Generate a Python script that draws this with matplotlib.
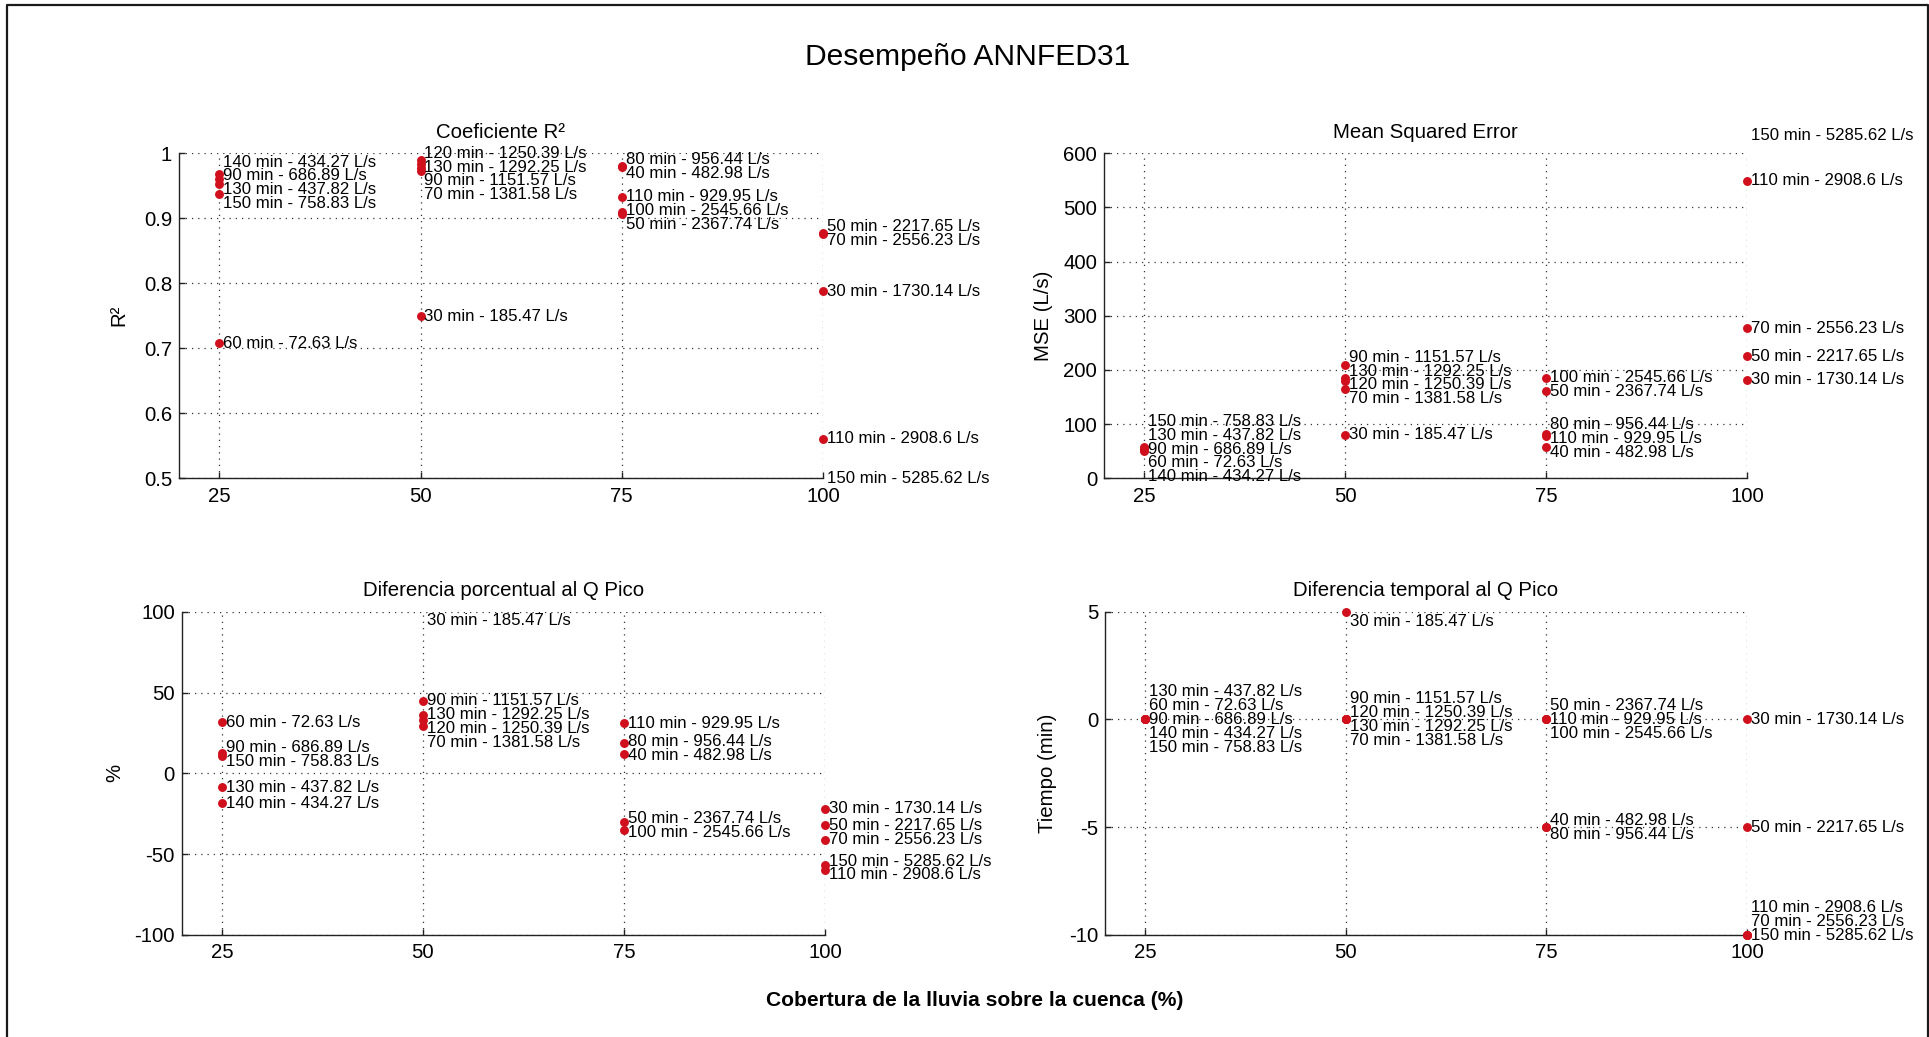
import matplotlib
matplotlib.use("Agg")
import matplotlib.pyplot as plt
from matplotlib.lines import Line2D

plt.rcParams['font.family'] = ['Liberation Sans', 'DejaVu Sans']
plt.rcParams['axes.unicode_minus'] = False

# ---- data -----------------------------------------------------------------
coverage_ticks = [25, 50, 75, 100]

event_coverage = [25, 25, 25, 25, 25,
                  50, 50, 50, 50, 50,
                  75, 75, 75, 75, 75,
                  100, 100, 100, 100, 100]

event_labels = ["60 min - 72.63 L/s", "90 min - 686.89 L/s", "130 min - 437.82 L/s",
                "140 min - 434.27 L/s", "150 min - 758.83 L/s",
                "30 min - 185.47 L/s", "70 min - 1381.58 L/s", "90 min - 1151.57 L/s",
                "120 min - 1250.39 L/s", "130 min - 1292.25 L/s",
                "40 min - 482.98 L/s", "50 min - 2367.74 L/s", "80 min - 956.44 L/s",
                "100 min - 2545.66 L/s", "110 min - 929.95 L/s",
                "30 min - 1730.14 L/s", "50 min - 2217.65 L/s", "70 min - 2556.23 L/s",
                "110 min - 2908.6 L/s", "150 min - 5285.62 L/s"]

r2 = [0.708, 0.960, 0.953, 0.968, 0.937,
      0.749, 0.973, 0.978, 0.989, 0.984,
      0.979, 0.907, 0.981, 0.910, 0.933,
      0.788, 0.877, 0.876, 0.561, 0.42]

mse = [52, 54, 56, 50, 58,
       80, 165, 210, 180, 186,
       58, 161, 82, 186, 79,
       182, 225, 277, 549, 632]

pct_diff = [31.5, 12.5, -8.5, -18.5, 10.5,
            118, 29, 45, 33, 36,
            12, -30, 19, -35, 31,
            -22, -32, -41, -60, -57]

time_diff = [0, 0, 0, 0, 0,
             5, 0, 0, 0, 0,
             -5, 0, -5, 0, 0,
             0, -5, -10, -10, -10]

# order of labels that share the same time difference
time_tie_rank = [1, 2, 0, 3, 4,
                 0, 4, 1, 2, 3,
                 0, 0, 1, 2, 1,
                 0, 0, 1, 0, 2]

# ---- figure ---------------------------------------------------------------
W, H = 1929, 1037
fig = plt.figure(figsize=(W / 100, H / 100), dpi=100)
fig.patch.set_facecolor('white')

DOT = '#d0101c'
LINE_GAP = 13.8      # px between stacked label lines
LABEL_DX = 4         # px from dot to label


def px_rect(x0, y0, x1, y1):
    return [x0 / W, 1 - y1 / H, (x1 - x0) / W, (y1 - y0) / H]


panels = [
    dict(rect=px_rect(179, 153.3, 823, 478.3), values=r2, ylim=(0.5, 1),
         yticks=[0.5, 0.6, 0.7, 0.8, 0.9, 1], yticklabels=['0.5', '0.6', '0.7', '0.8', '0.9', '1'],
         title='Coeficiente R²', ylabel='R²', ylabel_x=-0.079, top_pad=0, bot_pad=0, ranks=None),
    dict(rect=px_rect(1104, 153.3, 1747, 478.3), values=mse, ylim=(0, 600),
         yticks=[0, 100, 200, 300, 400, 500, 600], yticklabels=None,
         title='Mean Squared Error', ylabel='MSE (L/s)', ylabel_x=-0.079, top_pad=None, bot_pad=0, ranks=None),
    dict(rect=px_rect(181.7, 611.7, 825, 935), values=pct_diff, ylim=(-100, 100),
         yticks=[-100, -50, 0, 50, 100], yticklabels=None,
         title='Diferencia porcentual al Q Pico', ylabel='%', ylabel_x=-0.090, top_pad=9, bot_pad=0, ranks=None),
    dict(rect=px_rect(1105, 611.7, 1747, 935), values=time_diff, ylim=(-10, 5),
         yticks=[-10, -5, 0, 5], yticklabels=None,
         title='Diferencia temporal al Q Pico', ylabel='Tiempo (min)', ylabel_x=-0.074, top_pad=10, bot_pad=0,
         ranks=time_tie_rank),
]


def label_rows(desired, gap, top_lim, bot_lim, top_pad, bot_pad):
    """Centre each cluster of nearby labels on its points, then keep rows apart."""
    groups = [[desired[0]]]
    for d in desired[1:]:
        if d - groups[-1][-1] < gap:
            groups[-1].append(d)
        else:
            groups.append([d])
    rows = []
    prev = None
    for g in groups:
        n = len(g)
        top = sum(g) / n - (n - 1) * gap / 2
        if top_pad is not None:
            top = max(top, top_lim + top_pad)
        if bot_pad is not None:
            top = min(top, bot_lim - bot_pad - (n - 1) * gap)
        if prev is not None and top < prev + gap:
            top = prev + gap
        rows += [top + k * gap for k in range(n)]
        prev = rows[-1]
    return rows


for p in panels:
    ax = fig.add_axes(p['rect'])
    ax.set_xlim(20, 100)
    ax.set_ylim(*p['ylim'])
    ax.set_xticks(coverage_ticks)
    ax.set_yticks(p['yticks'])
    if p['yticklabels']:
        ax.set_yticklabels(p['yticklabels'])
    for s in ('top', 'right'):
        ax.spines[s].set_visible(False)
    for s in ('left', 'bottom'):
        ax.spines[s].set_linewidth(1.0)
        ax.spines[s].set_color('#222222')
    ax.tick_params(direction='in', length=4.5, width=1.0, labelsize=14.7, color='#222222')
    ax.tick_params(axis='x', pad=6)
    ax.tick_params(axis='y', pad=5)
    ax.grid(True, color='#333333', linestyle=(0, (1, 4)), linewidth=0.9)
    ax.set_axisbelow(True)
    ax.set_title(p['title'], fontsize=14.7, pad=11)
    ax.set_ylabel(p['ylabel'], fontsize=14.7)
    ax.yaxis.set_label_coords(p['ylabel_x'], 0.5)

    vals = p['values']
    lo, hi = p['ylim']
    xs_in = [event_coverage[i] for i in range(len(vals)) if lo <= vals[i] <= hi]
    ys_in = [vals[i] for i in range(len(vals)) if lo <= vals[i] <= hi]
    ax.plot(xs_in, ys_in, 'o', color=DOT, markeredgecolor=DOT, markersize=5.4, zorder=3, clip_on=False)

    to_px = ax.transData.transform
    inv = ax.transData.inverted().transform
    for c in coverage_ticks:
        idx = [i for i in range(len(vals)) if event_coverage[i] == c]
        ranks = p['ranks']
        idx.sort(key=lambda i: (-vals[i], ranks[i] if ranks else 0))
        desired = [-to_px((c, vals[i]))[1] for i in idx]
        top_lim = -to_px((c, hi))[1]
        bot_lim = -to_px((c, lo))[1]
        x_px = to_px((c, 0))[0] + LABEL_DX
        rows = label_rows(desired, LINE_GAP, top_lim, bot_lim, p['top_pad'], p['bot_pad'])
        for i, yp in zip(idx, rows):
            xd, yd = inv((x_px, -yp))
            ax.text(xd, yd, event_labels[i], ha='left', va='center', fontsize=12.1,
                    clip_on=False, zorder=4)

fig.text(968 / W, 1 - 57 / H, 'Desempeño ANNFED31', ha='center', va='center', fontsize=21.6)
fig.text(975 / W, 1 - 1000 / H, 'Cobertura de la lluvia sobre la cuenca (%)', ha='center', va='center',
         fontsize=15.1, fontweight='bold')

# frame around the window
fig.add_artist(Line2D([6.5 / W, 6.5 / W, 1927.5 / W, 1927.5 / W], [0, 1 - 5 / H, 1 - 5 / H, 0],
                      transform=fig.transFigure, color='#1a1a1a', linewidth=1.6))

fig.savefig('out.png', dpi=100, facecolor='white')
